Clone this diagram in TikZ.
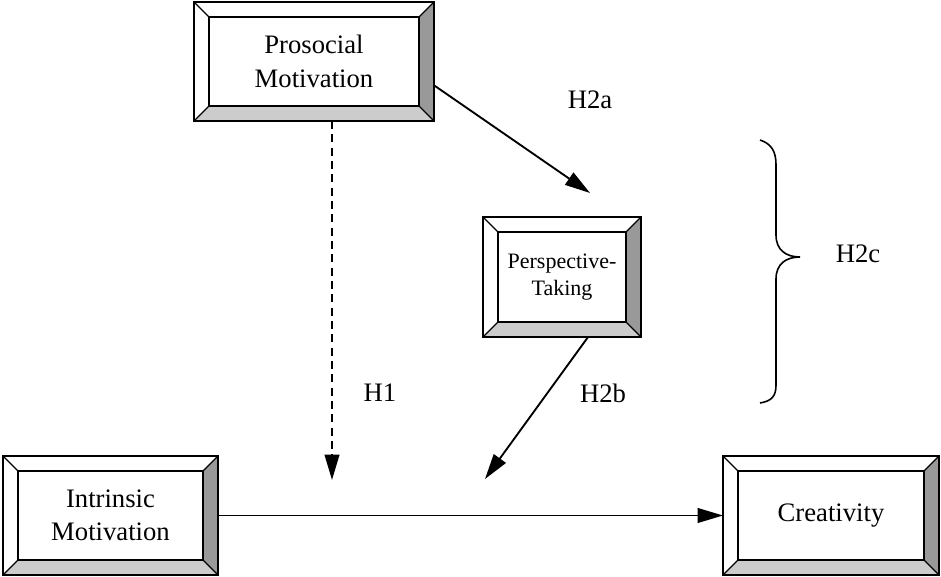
\documentclass[tikz,border=0pt]{standalone}
\usepackage{fontspec}
\setmainfont{Liberation Serif}
\usetikzlibrary{calc,arrows.meta}
\definecolor{bevdark}{HTML}{999999}
\definecolor{bevlight}{HTML}{CCCCCC}
\tikzset{
  outerbox/.style={draw, line width=1.5pt, fill=white, inner sep=0pt, outer sep=0pt},
  innerbox/.style={draw, line width=1.5pt, inner sep=0pt, outer sep=0pt, align=center,
    font=\fontsize{20}{25}\selectfont},
  smalltext/.style={font=\fontsize{16.5}{20.5}\selectfont},
  diag/.style={line width=0.9pt},
  arr/.style={line width=1.4pt, -{Triangle[length=19pt,width=11pt]}},
  lbl/.style={font=\fontsize{20}{25}\selectfont, inner sep=0pt},
}
\newcommand\bevbox[7][]{%
  \node[outerbox, minimum width=#5*0.75pt, minimum height=#6*0.75pt] (#2) at (#3,#4) {};
  \fill[bevdark] (#2.north east) -- (#2.south east) -- ([shift={(-15,15)}]#2.south east) -- ([shift={(-15,-15)}]#2.north east) -- cycle;
  \fill[bevlight] (#2.south west) -- (#2.south east) -- ([shift={(-15,15)}]#2.south east) -- ([shift={(15,15)}]#2.south west) -- cycle;
  \draw[diag] (#2.north west) -- ([shift={(15,-15)}]#2.north west)
              (#2.north east) -- ([shift={(-15,-15)}]#2.north east)
              (#2.south west) -- ([shift={(15,15)}]#2.south west)
              (#2.south east) -- ([shift={(-15,15)}]#2.south east);
  \node[innerbox, minimum width=(#5-30)*0.75pt, minimum height=(#6-30)*0.75pt, #1] (#2-in) at (#2) {#7};
  \draw[line width=1.5pt] (#2.north west) rectangle (#2.south east);
}
\begin{document}
\begin{tikzpicture}[x=0.75pt,y=0.75pt]
\useasboundingbox (0,0) rectangle (941,577);
\bevbox{P}{314}{515.5}{240}{119}{Prosocial\\Motivation}
\bevbox[smalltext]{T}{562}{300}{158}{120}{Perspective-\\Taking}
\bevbox{I}{110.5}{61.5}{215}{119}{Intrinsic\\Motivation}
\bevbox{C}{831}{61.5}{216}{119}{Creativity}

\coordinate (h1tip) at (332,97);
\coordinate (h2atip) at (590,384);
\coordinate (h2btip) at (485,98);

\draw[arr, dash pattern=on 6pt off 4pt] (P.south -| h1tip) -- (h1tip);
\draw[arr] ($(P.north east)!0.7!(P.south east)$) -- (h2atip);
\draw[arr] ($(T.south west)!0.665!(T.south east)$) -- (h2btip);
\draw[arr] (I.east) -- (C.west);

\node[lbl] (l2a) at (590,477) {H2a};
\node[lbl] (l1) at (380,184) {H1};
\node[lbl] (l2b) at (603,184) {H2b};
\node[lbl] (l2c) at (858,323) {H2c};

\draw[line width=1.2pt] (760,437) .. controls (772,433) and (776,425) .. (776,412)
  -- (776,342) .. controls (776,327) and (786,320) .. (800,320)
  .. controls (786,320) and (776,313) .. (776,298)
  -- (776,192) .. controls (776,181) and (772,176) .. (760,174);
\end{tikzpicture}
\end{document}
